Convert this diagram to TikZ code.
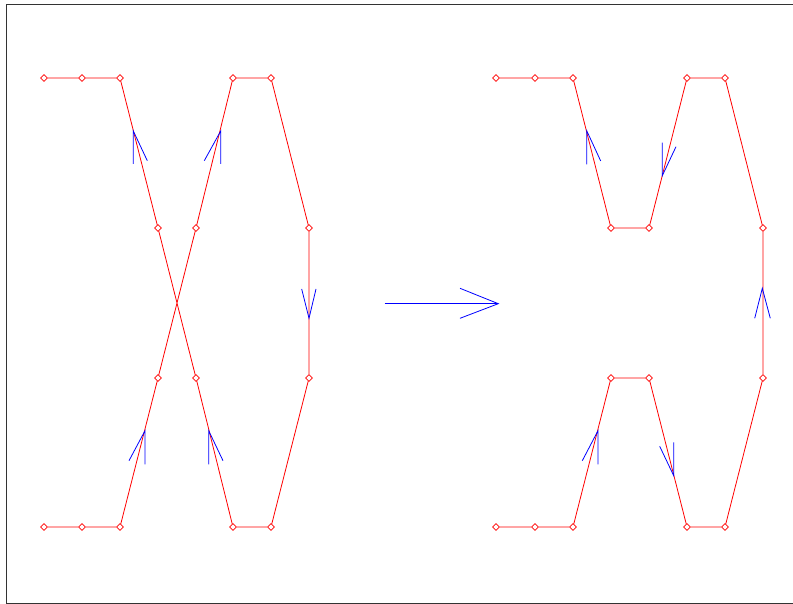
\documentclass[tikz,border=0pt]{standalone}
\usetikzlibrary{shapes.geometric}
\begin{document}
\begin{tikzpicture}[x=1pt,y=-1pt,
  pt/.style={diamond,draw=red,line width=0.7pt,inner sep=0pt,minimum size=7pt},
  redline/.style={draw=red,line width=0.8pt},
  bluetick/.style={draw=blue,line width=0.8pt}]
\useasboundingbox (0,0) rectangle (793,604);
\draw[line width=0.9pt,black!80] (820,4) -- (6.5,4) -- (6.5,603) -- (820,603);
% left figure
\foreach \n/\x/\y in {a1/44/78,a2/82/78,a3/120/78,a4/158/228,a5/196/228,a6/233/78,a7/271/78,a8/309/228,a9/309/378,a10/158/378,a11/196/378,a12/44/527,a13/82/527,a14/120/527,a15/233/527,a16/271/527}
  \node[pt] (\n) at (\x,\y) {};
\draw[redline] (a1)--(a2)--(a3)--(a4)--(a11)--(a15)--(a16)--(a9)--(a8)--(a7)--(a6)--(a5)--(a10)--(a14)--(a13)--(a12);
% right figure
\foreach \n/\x/\y in {b1/496/78,b2/535/78,b3/573/78,b4/611/228,b5/649/228,b6/687/78,b7/725/78,b8/763/228,b9/763/378,b10/611/378,b11/649/378,b12/496/527,b13/535/527,b14/573/527,b15/687/527,b16/725/527}
  \node[pt] (\n) at (\x,\y) {};
\draw[redline] (b1)--(b2)--(b3)--(b4)--(b5)--(b6)--(b7)--(b8)--(b9)--(b16)--(b15)--(b11)--(b10)--(b14)--(b13)--(b12);
% arrow marks, left figure
\draw[bluetick] (133.3,164) -- (133.3,131) -- (147.3,160.7);
\draw[bluetick] (220.7,164) -- (220.7,131) -- (204.3,160.7);
\draw[bluetick] (301.7,289) -- (309,318.3) -- (316,289);
\draw[bluetick] (145,464.3) -- (145,430.7) -- (129,460.7);
\draw[bluetick] (208.7,464.3) -- (208.7,430.7) -- (223,460.7);
% arrow marks, right figure
\draw[bluetick] (586.7,164.3) -- (586.7,130.7) -- (600.7,161);
\draw[bluetick] (662.3,142.7) -- (662.3,175.7) -- (676,146.7);
\draw[bluetick] (598,464.3) -- (598,430.7) -- (582.3,460.7);
\draw[bluetick] (673.7,442.3) -- (673.7,475.7) -- (659.7,446.3);
\draw[bluetick] (754.7,318.3) -- (762.3,288.3) -- (770.3,318.3);
% big arrow
\coordinate (s) at (384.7,303.7);
\coordinate (t) at (498.3,303.7);
\draw[bluetick] (s) -- (t);
\draw[bluetick] (460,288.3) -- (t) -- (460,318.3);
\end{tikzpicture}
\end{document}
